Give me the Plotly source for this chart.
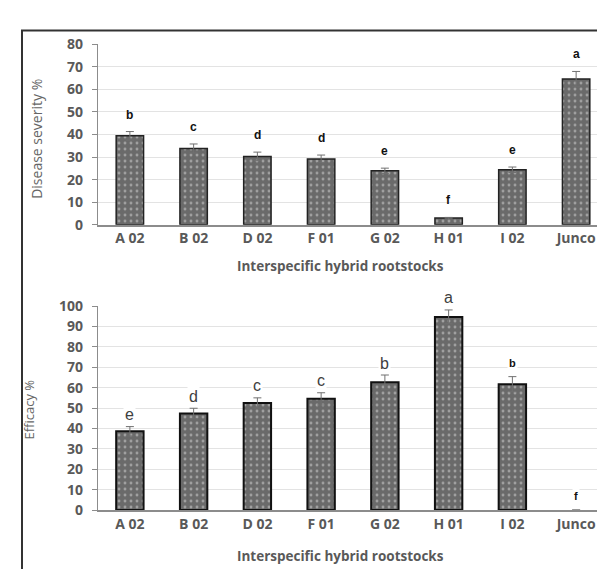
import plotly.graph_objects as go

W, H = 605, 570

categories = ["A 02", "B 02", "D 02", "F 01", "G 02", "H 01", "I 02", "Junco"]

severity = [39.4, 33.8, 30.3, 29.2, 23.9, 3.0, 24.4, 64.5]
severity_err = [1.9, 2.0, 1.9, 1.7, 1.2, 0.3, 1.2, 3.4]
severity_letters = ["b", "c", "d", "d", "e", "f", "e", "a"]

efficacy = [38.6, 47.3, 52.5, 54.5, 62.7, 94.7, 61.7, 0.0]
efficacy_err = [2.3, 2.6, 2.5, 3.0, 3.5, 3.4, 3.7, 0.0]
efficacy_letters = ["e", "d", "c", "c", "b", "a", "b", "f"]
efficacy_letter_bold = [False, False, False, False, False, False, True, True]

x_title = "Interspecific hybrid rootstocks"
y_title_top = "Disease severity %"
y_title_bottom = "Efficacy %"

GRAY = "#595959"
FONT = "Open Sans"


def py(px):
    return 1 - px / H


def pxx(px):
    return px / W


pattern = dict(shape=".", bgcolor="#6a6a6a", fgcolor="#d8d8d8", size=6, solidity=0.18)

fig = go.Figure()
fig.add_trace(go.Bar(
    x=categories, y=severity, xaxis="x", yaxis="y",
    marker=dict(color="#6a6a6a", pattern=pattern,
                line=dict(color="#222222", width=[1.5 if v > 0 else 0 for v in severity])),
    error_y=dict(type="data", array=severity_err, color="#707070", thickness=1, width=4),
    showlegend=False,
))
fig.add_trace(go.Bar(
    x=categories, y=efficacy, xaxis="x2", yaxis="y2",
    marker=dict(color="#6a6a6a", pattern=pattern,
                line=dict(color="#111111", width=[2 if v > 0 else 0 for v in efficacy])),
    error_y=dict(type="data", array=[e if e > 0 else None for e in efficacy_err],
                 color="#707070", thickness=1, width=4),
    showlegend=False,
))

annotations = []
for c, v, e, t in zip(categories, severity, severity_err, severity_letters):
    annotations.append(dict(
        x=c, y=min(v + e, 68), xref="x", yref="y", text=f"<b>{t}</b>", showarrow=False,
        yshift=17, font=dict(family="Arial", size=12, color="#111111"),
    ))
for c, v, e, t, b in zip(categories, efficacy, efficacy_err, efficacy_letters, efficacy_letter_bold):
    annotations.append(dict(
        x=c, y=v + e, xref="x2", yref="y2",
        text=f"<b>{t}</b>" if b else t, showarrow=False,
        yshift=12 if not b else 14, bgcolor="white",
        font=dict(family="Arial" if b else "Liberation Sans", size=11 if b else 16,
                  color="#111111" if b else "#404040"),
    ))

# axis titles
common_anchor = dict(xref="paper", yref="paper", xanchor="center", yanchor="middle", showarrow=False)
annotations.append(dict(x=pxx(332), y=py(257), text=f"<b>{x_title}</b>",
                        font=dict(family=FONT, size=13.5, color=GRAY), **common_anchor))
annotations.append(dict(x=pxx(332), y=py(557), text=f"<b>{x_title}</b>",
                        font=dict(family=FONT, size=13.5, color=GRAY), **common_anchor))
annotations.append(dict(x=pxx(29), y=py(125), text=y_title_top, textangle=-90,
                        font=dict(family=FONT, size=14, color="#666666"), **common_anchor))
annotations.append(dict(x=pxx(20), y=py(405), text=y_title_bottom, textangle=-90,
                        font=dict(family=FONT, size=13, color="#666666"), **common_anchor))

xaxis_common = dict(
    showline=True, linecolor="#8c8c8c", linewidth=1.5, ticks="", showgrid=False,
    tickfont=dict(family=FONT, size=14, color=GRAY, weight="bold"),
    range=[-0.5, 7.5],
)
yaxis_common = dict(
    showline=True, linecolor="#8c8c8c", linewidth=1.2, ticks="outside", ticklen=5, tickcolor="#8c8c8c",
    showgrid=True, gridcolor="#e3e3e3", gridwidth=1, zeroline=False, dtick=10,
    ticklabelstandoff=6,
    tickfont=dict(family=FONT, size=14, color=GRAY, weight="bold"),
)

fig.update_layout(
    width=W, height=H,
    margin=dict(l=0, r=0, t=0, b=0),
    paper_bgcolor="white", plot_bgcolor="white",
    bargap=0.57,
    xaxis=dict(domain=[pxx(90), pxx(600)], anchor="y", **xaxis_common),
    yaxis=dict(domain=[py(214), py(27)], anchor="x", range=[0, 80], **yaxis_common),
    xaxis2=dict(domain=[pxx(90), pxx(600)], anchor="y2", **xaxis_common),
    yaxis2=dict(domain=[py(509), py(298)], anchor="x2", range=[0, 100], **yaxis_common),
    annotations=annotations,
    shapes=[
        dict(type="line", xref="paper", yref="paper", x0=pxx(13), x1=1, y0=py(13), y1=py(13),
             line=dict(color="#333333", width=2)),
        dict(type="line", xref="paper", yref="paper", x0=pxx(14), x1=pxx(14), y0=py(13), y1=0,
             line=dict(color="#333333", width=2)),
    ],
)

fig.write_html("out.html")
